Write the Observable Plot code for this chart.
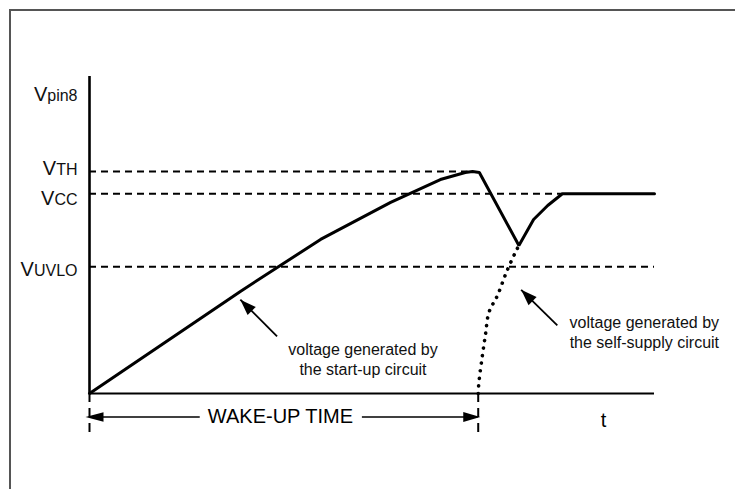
<!DOCTYPE html>
<html><head><meta charset="utf-8">
<script src="https://cdn.jsdelivr.net/npm/d3@7"></script>
<script src="https://cdn.jsdelivr.net/npm/@observablehq/plot@0.6"></script>
<style>
html,body{margin:0;padding:0;background:#fff;}
#wrap{position:relative;width:735px;height:489px;overflow:hidden;}
#wrap svg{position:absolute;left:0;top:0;}
#frame{position:absolute;left:8.5px;top:9px;right:-10px;bottom:-10px;border-top:2px solid #555;border-left:2px solid #555;z-index:2;pointer-events:none;}
</style></head><body><div id="wrap"></div>
<script>
// ---- data (time t, voltage V in relative units) ----
const levelNames  = ["TH", "CC", "UVLO"];
const levelValues = [7.0, 6.3, 4.0];
const levelEnds   = [6.7, 8.37, 10];
const axisLabelName = "pin8";
const axisTop = 10;
const tEnd = 10;

// solid Vpin8 curve: start-up ramp, drop, recovery to VCC
const vpinT = [0, 2.67, 4.09, 5.33, 6.21, 6.65, 6.78, 6.90, 7.60, 7.86, 8.11, 8.37, 10];
const vpinV = [0, 3.22, 4.86, 6.03, 6.75, 6.97, 7.00, 6.97, 4.67, 5.49, 5.93, 6.30, 6.30];

// dotted self-supply curve
const selfT = [6.88, 6.89, 6.95, 7.01, 7.07, 7.22, 7.38, 7.54, 7.60];
const selfV = [0, 0.31, 1.15, 1.88, 2.56, 3.09, 3.83, 4.46, 4.67];

// wake-up time
const wakeStart = 0, wakeEnd = 6.88, wakeV = -0.74, wakeBottom = -1.23;
const wakeText = "WAKE-UP TIME", wakeTextT = 3.38;
const wakeSegStart = [0, 4.83], wakeSegEnd = [1.96, 6.88];
const tLabel = "t", tLabelT = 9.1;

// annotations
const annTexts = ["voltage generated by\nthe start-up circuit", "voltage generated by\nthe self-supply circuit"];
const annT = [4.84, 9.82], annV = [1.09, 1.96];
const tipT = [2.67, 7.64], tipV = [2.96, 3.27];
const tailT = [3.32, 8.28], tailV = [1.80, 2.15];

// ---- layout ----
const W = 735, H = 489, mL = 89, mR = 81, mT = 76, mB = 96;
const pxT = (W - mL - mR) / tEnd, pxV = (H - mT - mB) / axisTop;

function head(dt, dv, L, Wd) {
  const dx = dt * pxT, dy = -dv * pxV, n = Math.hypot(dx, dy);
  const ux = dx / n, uy = dy / n, px = -uy, py = ux;
  return {draw(ctx) {
    ctx.moveTo(0, 0);
    ctx.lineTo(-L * ux + Wd / 2 * px, -L * uy + Wd / 2 * py);
    ctx.lineTo(-L * ux - Wd / 2 * px, -L * uy - Wd / 2 * py);
    ctx.closePath();
  }};
}

const vpin = vpinT.map((t, i) => ({t, v: vpinV[i]}));
const self = selfT.map((t, i) => ({t, v: selfV[i]}));
const levels = levelNames.map((n, i) => ({n, v: levelValues[i], end: levelEnds[i]}));
const ann = annTexts.map((s, i) => ({s, t: annT[i], v: annV[i]}));
const arrows = tipT.map((t, i) => ({t1: tailT[i], v1: tailV[i], t2: t, v2: tipV[i]}));
const segs = wakeSegStart.map((a, i) => ({a, b: wakeSegEnd[i]}));

const labelDy = [24, 3, 11, 9];
const yLabels = [{s: "V" + axisLabelName, v: axisTop}, ...levels.map(l => ({s: "V" + l.n, v: l.v}))];
const yLabelSet = new Set(yLabels.map(l => l.s));

const marks = [
  // y axis & x axis
  Plot.ruleX([0], {y1: 0, y2: axisTop, stroke: "black", strokeWidth: 2.6}),
  Plot.ruleY([0], {x1: 0, x2: tEnd, stroke: "black", strokeWidth: 1.8}),
  // threshold dashed lines
  Plot.ruleY(levels, {y: "v", x1: 0, x2: "end", stroke: "black", strokeWidth: 2, strokeDasharray: "7,5"}),
  // wake-up vertical dashed
  Plot.ruleX([wakeStart, wakeEnd], {y1: 0, y2: wakeBottom, stroke: "black", strokeWidth: 2, strokeDasharray: "9,6"}),
  // wake-up arrow shaft segments
  Plot.ruleY(segs, {y: () => wakeV, x1: "a", x2: "b", stroke: "black", strokeWidth: 1.6}),
  Plot.dot([0], {x: () => wakeStart, y: () => wakeV, dx: -4, symbol: head(-1, 0, 18, 9.5), fill: "black", stroke: "none"}),
  Plot.dot([0], {x: () => wakeEnd, y: () => wakeV, dx: 2, symbol: head(1, 0, 17, 10), fill: "black", stroke: "none"}),
  Plot.text([wakeText], {x: () => wakeTextT, y: () => wakeV, text: d => d, fontSize: 20, fill: "black"}),
  Plot.text([tLabel], {x: () => tLabelT, y: () => 0, text: d => d, fontSize: 20, dy: 27, fill: "black"}),
  // dotted self-supply curve
  Plot.line(self, {x: "t", y: "v", curve: "catmull-rom", stroke: "black", strokeWidth: 3.6, strokeDasharray: "0.1,7.5", strokeLinecap: "round"}),
  // main curve
  Plot.line(vpin, {x: "t", y: "v", stroke: "black", strokeWidth: 3, strokeLinejoin: "miter"}),
  // annotation arrows
  Plot.link(arrows, {x1: "t1", y1: "v1", x2: "t2", y2: "v2", stroke: "black", strokeWidth: 1.8}),
  ...arrows.map(a => Plot.dot([a], {x: "t2", y: "v2", symbol: head(a.t2 - a.t1, a.v2 - a.v1, 16, 11.5), fill: "black", stroke: "none"})),
  Plot.text(ann, {x: "t", y: "v", text: "s", fontSize: 16, lineHeight: 1.25, fill: "#111"}),
  // y labels
  ...yLabels.map((l, i) => Plot.text([l], {x: () => 0, y: "v", text: "s", dx: -12, dy: labelDy[i], textAnchor: "end", lineAnchor: "bottom", fontSize: 20, fill: "#111"}))
];

const plot = Plot.plot({
  width: W, height: H,
  marginLeft: mL, marginRight: mR, marginTop: mT, marginBottom: mB,
  x: {domain: [0, tEnd], axis: null},
  y: {domain: [0, axisTop], axis: null},
  style: {fontFamily: "Arial, 'Liberation Sans', sans-serif", background: "white", overflow: "visible"},
  marks
});

d3.select(plot).selectAll("text").each(function() {
  const s = this.textContent;
  if (!yLabelSet.has(s) || this.querySelector("tspan")) return;
  const t = d3.select(this);
  t.text(null);
  t.append("tspan").attr("font-size", 20).text(s[0]);
  t.append("tspan").attr("font-size", 16).text(s.slice(1));
});

const wrap = document.getElementById("wrap");
wrap.appendChild(plot);
const fr = document.createElement("div");
fr.id = "frame";
wrap.appendChild(fr);
</script>
</body></html>
